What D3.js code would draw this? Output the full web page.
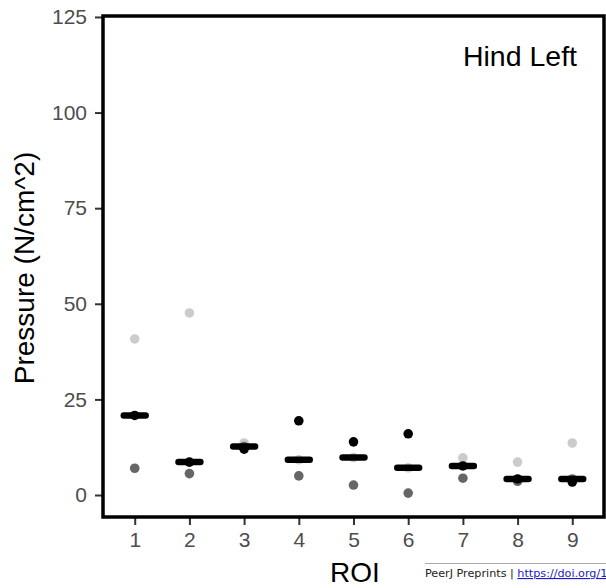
<!DOCTYPE html>
<html>
<head>
  <style>
    body { margin: 0; background: #fff; }
    svg text { font-family: "Liberation Sans", Arial, sans-serif; }
  </style>
</head>
<body>
  <div id="chart"></div>
  <script src="https://d3js.org/d3.v7.min.js"></script>
  <script>
    // ROI categories and the three series (pressure, N/cm^2)
    const roi = [1, 2, 3, 4, 5, 6, 7, 8, 9];
    const lightVals = [40.8, 47.6, 13.6, 9.2, 9.8, 7.1, 9.7, 8.6, 13.6];
    const darkVals  = [7.0, 5.6, 12.7, 5.0, 2.6, 0.5, 4.4, 3.6, 4.2];
    const blackVals = [20.8, 8.6, 12.0, 19.4, 13.9, 16.0, 7.6, 4.2, 3.4];
    const yTicks = [0, 25, 50, 75, 100, 125];

    const width = 606, height = 588;
    const margin = { top: 16, right: 2, bottom: 71, left: 103 };

    const svg = d3.select("#chart").append("svg")
      .attr("width", width)
      .attr("height", height);

    const x = d3.scaleLinear()
      .domain([0.42, 9.58])
      .range([margin.left, width - margin.right]);

    const y = d3.scaleLinear()
      .domain([-5.75, 125.25])
      .range([height - margin.bottom, margin.top]);

    // axes
    const xAxis = svg.append("g")
      .attr("transform", `translate(0,${height - margin.bottom})`)
      .call(d3.axisBottom(x).tickValues(roi).tickSize(8).tickPadding(6).tickFormat(d3.format("d")));
    const yAxis = svg.append("g")
      .attr("transform", `translate(${margin.left},0)`)
      .call(d3.axisLeft(y).tickValues(yTicks).tickSize(8).tickPadding(8));

    [xAxis, yAxis].forEach(g => {
      g.select(".domain").remove();
      g.selectAll(".tick line").attr("stroke", "#333").attr("stroke-width", 2);
      g.selectAll(".tick text").attr("fill", "#4d4d4d").style("font-size", "21px");
    });
    xAxis.selectAll(".tick text").attr("dy", "0.74em");

    // series points
    const series = [
      { vals: lightVals, color: "#cccccc" },
      { vals: darkVals, color: "#666666" },
      { vals: blackVals, color: "#000000" }
    ];
    series.forEach(s => {
      svg.append("g").selectAll("circle")
        .data(roi)
        .join("circle")
        .attr("cx", d => x(d))
        .attr("cy", (d, i) => y(s.vals[i]))
        .attr("r", 4.8)
        .attr("fill", s.color);
    });

    // median bars
    const medians = roi.map((d, i) => d3.median([lightVals[i], darkVals[i], blackVals[i]]));
    svg.append("g").selectAll("line")
      .data(roi)
      .join("line")
      .attr("x1", d => x(d - 0.2))
      .attr("x2", d => x(d + 0.2))
      .attr("y1", (d, i) => y(medians[i]))
      .attr("y2", (d, i) => y(medians[i]))
      .attr("stroke", "#000")
      .attr("stroke-width", 6.5)
      .attr("stroke-linecap", "round");

    // panel border
    svg.append("rect")
      .attr("x", margin.left)
      .attr("y", margin.top)
      .attr("width", width - margin.right - margin.left)
      .attr("height", height - margin.bottom - margin.top)
      .attr("fill", "none")
      .attr("stroke", "#000")
      .attr("stroke-width", 3.5);

    svg.append("text")
      .attr("x", 577)
      .attr("y", 66)
      .attr("text-anchor", "end")
      .style("font-size", "28.5px")
      .text("Hind Left");

    // axis titles
    svg.append("text")
      .attr("x", 355)
      .attr("y", 582)
      .attr("text-anchor", "middle")
      .style("font-size", "28px")
      .text("ROI");
    svg.append("text")
      .attr("transform", "translate(34,268) rotate(-90)")
      .attr("text-anchor", "middle")
      .style("font-size", "28px")
      .text("Pressure (N/cm^2)");

    // preprint footer
    svg.append("line")
      .attr("x1", 425).attr("x2", width)
      .attr("y1", 563.5).attr("y2", 563.5)
      .attr("stroke", "#aaa").attr("stroke-width", 1);
    const foot = svg.append("text")
      .attr("x", 425)
      .attr("y", 577)
      .style("font-family", "'DejaVu Sans', sans-serif")
      .style("font-size", "11.2px")
      .attr("fill", "#222");
    foot.append("tspan").text("PeerJ Preprints | ");
    foot.append("tspan")
      .attr("fill", "#1a1acc")
      .style("text-decoration", "underline")
      .text("https://doi.org/1");
  </script>
</body>
</html>
